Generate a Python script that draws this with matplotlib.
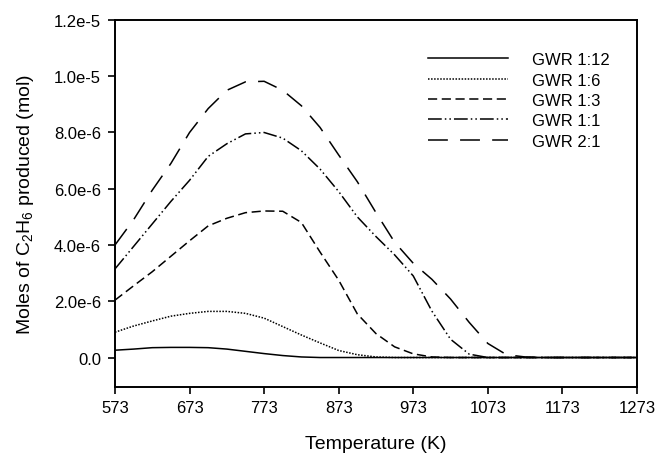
import numpy as np
import matplotlib
matplotlib.use("Agg")
import matplotlib.pyplot as plt

plt.rcParams['font.family'] = ['Liberation Sans', 'DejaVu Sans']
plt.rcParams['mathtext.fontset'] = 'custom'
plt.rcParams['mathtext.rm'] = 'Liberation Sans'
plt.rcParams['mathtext.it'] = 'Liberation Sans:italic'

# temperature grid (K)
temperature = [573, 598, 623, 648, 673, 698, 723, 748, 773, 798, 823, 848, 873,
               898, 923, 948, 973, 998, 1023, 1048, 1073, 1098, 1123, 1148, 1173, 1273]

# moles of C2H6 produced, in units of 1e-6 mol
gwr_1_12 = [0.26, 0.30, 0.35, 0.36, 0.36, 0.35, 0.30, 0.22, 0.14, 0.07, 0.02, 0.0, 0.0,
            0.0, 0.0, 0.0, 0.0, 0.0, 0.0, 0.0, 0.0, 0.0, 0.0, 0.0, 0.0, 0.0]
gwr_1_6 = [0.90, 1.12, 1.30, 1.47, 1.57, 1.64, 1.64, 1.57, 1.40, 1.10, 0.80, 0.52, 0.25,
           0.10, 0.02, 0.0, 0.0, 0.0, 0.0, 0.0, 0.0, 0.0, 0.0, 0.0, 0.0, 0.0]
gwr_1_3 = [2.04, 2.55, 3.05, 3.60, 4.15, 4.68, 4.95, 5.15, 5.21, 5.20, 4.80, 3.75, 2.75,
           1.55, 0.85, 0.38, 0.13, 0.02, 0.0, 0.0, 0.0, 0.0, 0.0, 0.0, 0.0, 0.0]
gwr_1_1 = [3.15, 3.95, 4.75, 5.55, 6.30, 7.15, 7.60, 7.95, 8.00, 7.80, 7.35, 6.70, 5.90,
           5.00, 4.30, 3.65, 2.90, 1.65, 0.65, 0.12, 0.0, 0.0, 0.0, 0.0, 0.0, 0.0]
gwr_2_1 = [4.00, 4.90, 5.95, 6.90, 8.00, 8.85, 9.50, 9.80, 9.82, 9.50, 8.95, 8.18, 7.20,
           6.25, 5.15, 4.10, 3.35, 2.78, 2.08, 1.25, 0.50, 0.10, 0.02, 0.0, 0.0, 0.0]

labels = ["GWR 1:12", "GWR 1:6", "GWR 1:3", "GWR 1:1", "GWR 2:1"]
xticks = [573, 673, 773, 873, 973, 1073, 1173, 1273]
yticks = [0.0, 2e-6, 4e-6, 6e-6, 8e-6, 1e-5, 1.2e-5]
yticklabels = ["0.0", "2.0e-6", "4.0e-6", "6.0e-6", "8.0e-6", "1.0e-5", "1.2e-5"]

series = [gwr_1_12, gwr_1_6, gwr_1_3, gwr_1_1, gwr_2_1]
styles = [
    dict(linestyle='-'),
    dict(dashes=(1.0, 1.0)),
    dict(dashes=(6.0, 3.0)),
    dict(dashes=(9.0, 2.0, 1.0, 2.0, 1.0, 2.0)),
    dict(dashes=(13.0, 8.0)),
]

fig = plt.figure(figsize=(6.57, 4.56), dpi=100)
ax = fig.add_axes([0.175, 0.149, 0.7945, 0.805])

T = np.array(temperature)
for vals, lab, st in zip(series, labels, styles):
    ax.plot(T, np.array(vals) * 1e-6, color='black', lw=1.1, label=lab, **st)

ax.set_xlim(573, 1273)
ax.set_ylim(-1.05e-6, 1.2e-5)
ax.set_xticks(xticks)
ax.set_xticklabels([str(t) for t in xticks])
ax.set_yticks(yticks)
ax.set_yticklabels(yticklabels)
ax.tick_params(direction='out', length=5, width=1.2, labelsize=12, top=False, right=False)
ax.tick_params(axis='y', pad=5)
ax.tick_params(axis='x', pad=4)
for sp in ax.spines.values():
    sp.set_linewidth(1.4)

ax.set_xlabel("Temperature (K)", fontsize=14, labelpad=15)
ax.set_ylabel(r"Moles of C$\mathregular{_2}$H$\mathregular{_6}$ produced (mol)",
              fontsize=14, labelpad=13)

ax.legend(loc='upper left', bbox_to_anchor=(0.6, 0.912), frameon=False, fontsize=12,
          handlelength=4.8, handletextpad=1.4, labelspacing=0.32, borderpad=0,
          borderaxespad=0)

fig.savefig("out.png", dpi=100)
